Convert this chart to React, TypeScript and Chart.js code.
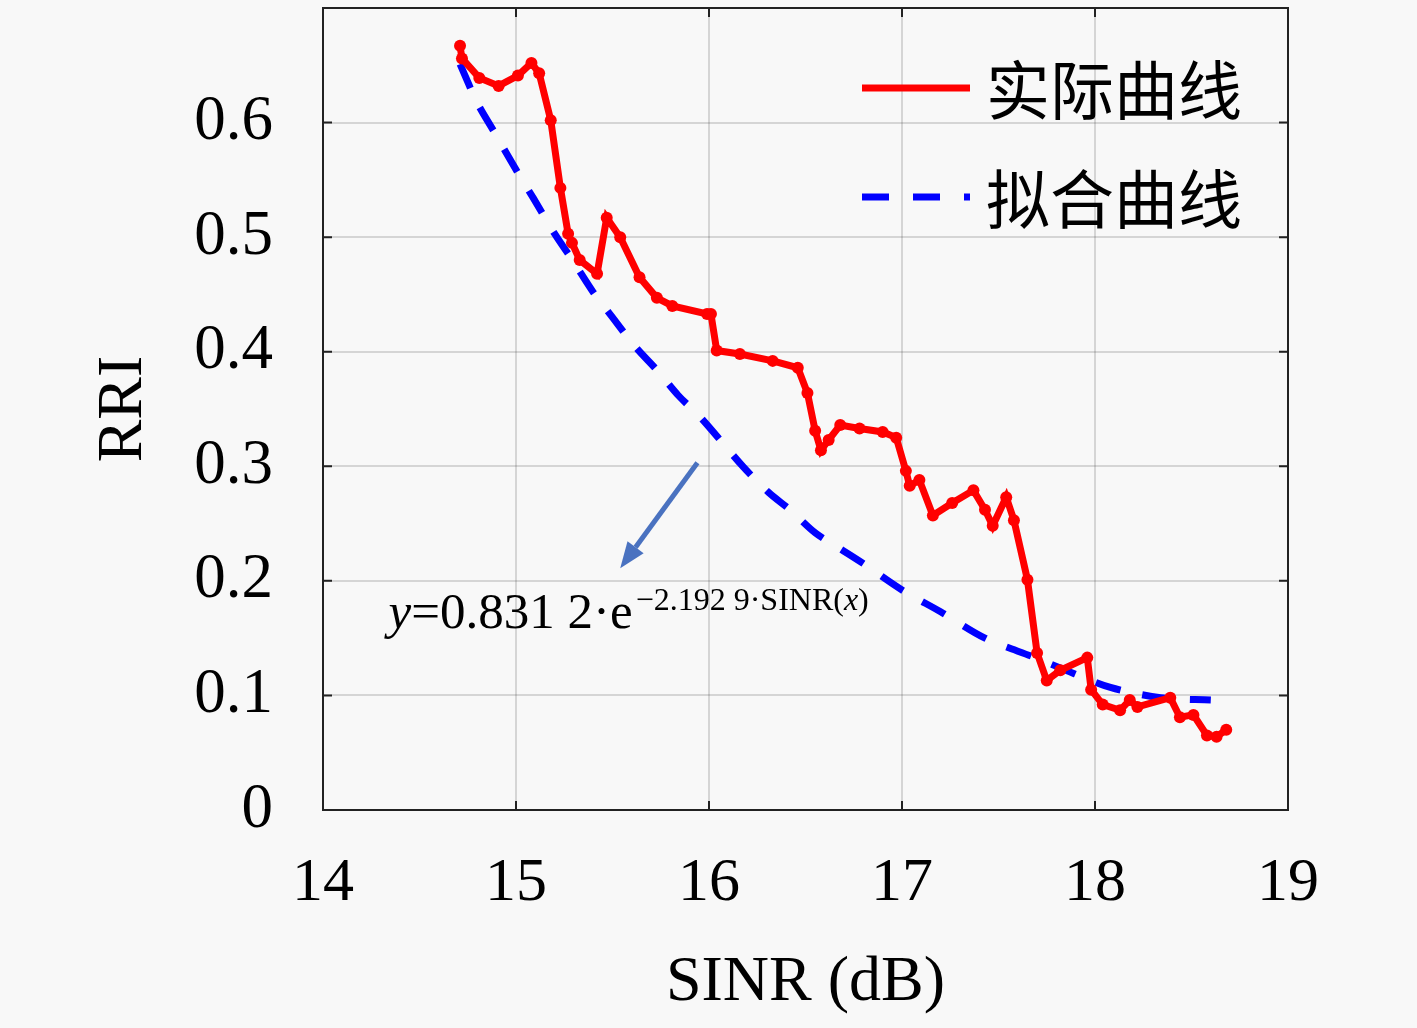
import { useEffect, useRef } from "react";
import { Chart, registerables } from "chart.js";

Chart.register(...registerables);

// ---- data ----
const actualX = [14.71, 14.72, 14.81, 14.91, 15.01, 15.08, 15.12, 15.18, 15.23, 15.27, 15.29, 15.33, 15.42, 15.47, 15.54, 15.64, 15.73, 15.81, 15.99, 16.01, 16.04, 16.16, 16.33, 16.46, 16.51, 16.55, 16.58, 16.62, 16.68, 16.78, 16.9, 16.97, 17.02, 17.04, 17.09, 17.16, 17.26, 17.37, 17.43, 17.47, 17.54, 17.58, 17.65, 17.7, 17.75, 17.82, 17.96, 17.98, 18.04, 18.13, 18.18, 18.22, 18.39, 18.44, 18.51, 18.58, 18.63, 18.68];
const actualY = [0.667, 0.656, 0.639, 0.632, 0.641, 0.652, 0.643, 0.602, 0.543, 0.503, 0.495, 0.48, 0.468, 0.517, 0.5, 0.465, 0.447, 0.44, 0.433, 0.433, 0.401, 0.398, 0.392, 0.386, 0.364, 0.331, 0.314, 0.323, 0.336, 0.333, 0.33, 0.325, 0.296, 0.283, 0.288, 0.257, 0.268, 0.279, 0.262, 0.248, 0.273, 0.253, 0.201, 0.137, 0.113, 0.122, 0.133, 0.105, 0.092, 0.087, 0.096, 0.09, 0.098, 0.081, 0.083, 0.065, 0.064, 0.07];

const fitX = [14.71, 14.8, 14.89, 15.01, 15.09, 15.2, 15.3, 15.4, 15.5, 15.62, 15.73, 15.84, 15.96, 16.18, 16.31, 16.42, 16.55, 16.67, 16.8, 17.0, 17.2, 17.43, 17.69, 17.82, 18.08, 18.34, 18.6];
const fitY = [0.651, 0.617, 0.591, 0.556, 0.534, 0.503, 0.478, 0.452, 0.43, 0.404, 0.384, 0.362, 0.342, 0.299, 0.277, 0.262, 0.242, 0.229, 0.215, 0.192, 0.173, 0.15, 0.133, 0.124, 0.107, 0.098, 0.096];

const xTickValues = [14, 15, 16, 17, 18, 19];
const yTickValues = [0, 0.1, 0.2, 0.3, 0.4, 0.5, 0.6];
const seriesNames = ["实际曲线", "拟合曲线"];
const xTitle = "SINR (dB)";
const yTitle = "RRI";
// annotation: arrow from/to (data coords) and text anchor
const arrowFrom = [15.94, 0.303];
const arrowTo = [15.54, 0.211];
const formulaAnchor = [14.34, 0.159];

const SERIF = '"Liberation Serif", "DejaVu Serif", serif';
const CJK = '"Noto Sans CJK SC", sans-serif';
const BG = "#f8f8f8";

const framePlugin = {
  id: "frameLegendAnno",
  afterDraw(chart: any) {
    const { ctx, chartArea: a, scales } = chart;
    const xs = scales.x;
    const ys = scales.y;
    ctx.save();
    // frame
    ctx.strokeStyle = "#222";
    ctx.lineWidth = 2;
    ctx.strokeRect(a.left, a.top, a.right - a.left, a.bottom - a.top);
    // inward ticks
    const tl = 9;
    xTickValues.forEach((v) => {
      const px = xs.getPixelForValue(v);
      ctx.beginPath();
      ctx.moveTo(px, a.bottom);
      ctx.lineTo(px, a.bottom - tl);
      ctx.moveTo(px, a.top);
      ctx.lineTo(px, a.top + tl);
      ctx.stroke();
    });
    yTickValues.forEach((v) => {
      const py = ys.getPixelForValue(v);
      ctx.beginPath();
      ctx.moveTo(a.left, py);
      ctx.lineTo(a.left + tl, py);
      ctx.moveTo(a.right, py);
      ctx.lineTo(a.right - tl, py);
      ctx.stroke();
    });

    // legend
    const lx0 = 862, lx1 = 970;
    const ly = [88, 197];
    ctx.lineCap = "butt";
    ctx.strokeStyle = "#ff0000";
    ctx.lineWidth = 7;
    ctx.beginPath();
    ctx.moveTo(lx0, ly[0]);
    ctx.lineTo(lx1, ly[0]);
    ctx.stroke();
    ctx.strokeStyle = "#0000ff";
    ctx.setLineDash([27, 24]);
    ctx.beginPath();
    ctx.moveTo(lx0, ly[1]);
    ctx.lineTo(lx1, ly[1]);
    ctx.stroke();
    ctx.setLineDash([]);
    ctx.fillStyle = "#000";
    ctx.font = `64px ${CJK}`;
    ctx.textBaseline = "middle";
    ctx.textAlign = "left";
    ctx.fillText(seriesNames[0], 986, ly[0] + 2);
    ctx.fillText(seriesNames[1], 986, ly[1] + 2);

    // arrow
    const ax0 = xs.getPixelForValue(arrowFrom[0]);
    const ay0 = ys.getPixelForValue(arrowFrom[1]);
    const ax1 = xs.getPixelForValue(arrowTo[0]);
    const ay1 = ys.getPixelForValue(arrowTo[1]);
    const ang = Math.atan2(ay1 - ay0, ax1 - ax0);
    const hl = 26, hw = 10;
    const bx = ax1 - hl * Math.cos(ang);
    const by = ay1 - hl * Math.sin(ang);
    ctx.strokeStyle = "#4a72c0";
    ctx.fillStyle = "#4a72c0";
    ctx.lineWidth = 5;
    ctx.beginPath();
    ctx.moveTo(ax0, ay0);
    ctx.lineTo(bx, by);
    ctx.stroke();
    ctx.beginPath();
    ctx.moveTo(ax1, ay1);
    ctx.lineTo(bx + hw * Math.sin(ang), by - hw * Math.cos(ang));
    ctx.lineTo(bx - hw * Math.sin(ang), by + hw * Math.cos(ang));
    ctx.closePath();
    ctx.fill();

    // formula text
    let tx = xs.getPixelForValue(formulaAnchor[0]);
    const tb = ys.getPixelForValue(formulaAnchor[1]);
    ctx.fillStyle = "#000";
    ctx.textBaseline = "alphabetic";
    const draw = (s: string, font: string, dy: number) => {
      ctx.font = font;
      ctx.fillText(s, tx, tb + dy);
      tx += ctx.measureText(s).width;
    };
    const mainF = `51px ${SERIF}`;
    const mainI = `italic 51px ${SERIF}`;
    const supF = `32px ${SERIF}`;
    const supI = `italic 32px ${SERIF}`;
    draw("y", mainI, 0);
    draw("=0.831 2·e", mainF, 0);
    tx += 3;
    draw("−2.192 9·SINR(", supF, -18);
    draw("x", supI, -18);
    draw(")", supF, -18);
    ctx.restore();
  },
};

export default function App() {
  const ref = useRef<HTMLCanvasElement | null>(null);
  useEffect(() => {
    document.body.style.margin = "0";
    document.body.style.background = BG;
    const canvas = ref.current!;
    const chart = new Chart(canvas, {
      type: "line",
      data: {
        datasets: [
          {
            label: seriesNames[0],
            data: actualX.map((x, i) => ({ x, y: actualY[i] })),
            borderColor: "#ff0000",
            backgroundColor: "#ff0000",
            borderWidth: 7,
            pointRadius: 6,
            pointBorderWidth: 0,
            pointBackgroundColor: "#ff0000",
            tension: 0,
          },
          {
            label: seriesNames[1],
            data: fitX.map((x, i) => ({ x, y: fitY[i] })),
            borderColor: "#0000ff",
            backgroundColor: "#0000ff",
            borderWidth: 7,
            borderDash: [26, 22],
            pointRadius: 0,
            tension: 0.3,
          },
        ],
      },
      options: {
        responsive: false,
        devicePixelRatio: 1,
        animation: false,
        layout: { padding: { left: 0, top: 8, right: 129, bottom: 0 } },
        plugins: { legend: { display: false }, tooltip: { enabled: false } },
        scales: {
          x: {
            type: "linear",
            min: 14,
            max: 19,
            afterBuildTicks: (s: any) => {
              s.ticks = xTickValues.map((v) => ({ value: v }));
            },
            afterFit: (s: any) => {
              s.height = 218;
              s.paddingLeft = 0;
              s.paddingRight = 0;
            },
            ticks: {
              padding: 37,
              color: "#000",
              font: { family: SERIF, size: 62 },
              callback: (v: any) => String(v),
              maxRotation: 0,
            },
            grid: { color: "rgba(0,0,0,0.14)", lineWidth: 2, drawTicks: false },
            border: { display: true, color: "#222", width: 2 },
            title: {
              display: true,
              text: xTitle,
              color: "#000",
              font: { family: SERIF, size: 64 },
              padding: { top: 8, bottom: 6 },
            },
          },
          y: {
            type: "linear",
            min: 0,
            max: 0.7,
            afterBuildTicks: (s: any) => {
              s.ticks = [...yTickValues, 0.7].map((v) => ({ value: v }));
            },
            afterFit: (s: any) => {
              s.width = 323;
              s.paddingTop = 0;
              s.paddingBottom = 0;
            },
            ticks: {
              padding: 50,
              color: "#000",
              font: { family: SERIF, size: 63 },
              callback: (v: any) => {
                const n = Number(Number(v).toFixed(1));
                if (n >= 0.7) return "";
                return n === 0 ? "0" : n.toFixed(1);
              },
            },
            grid: { color: "rgba(0,0,0,0.14)", lineWidth: 2, drawTicks: false },
            border: { display: true, color: "#222", width: 2 },
            title: {
              display: true,
              text: yTitle,
              color: "#000",
              font: { family: SERIF, size: 64 },
              padding: { top: 86, bottom: 0 },
            },
          },
        },
      },
      plugins: [framePlugin],
    } as any);
    return () => chart.destroy();
  }, []);
  return (
    <div style={{ width: 1417, height: 1028, background: BG }}>
      <canvas ref={ref} width={1417} height={1028} style={{ display: "block" }} />
    </div>
  );
}
